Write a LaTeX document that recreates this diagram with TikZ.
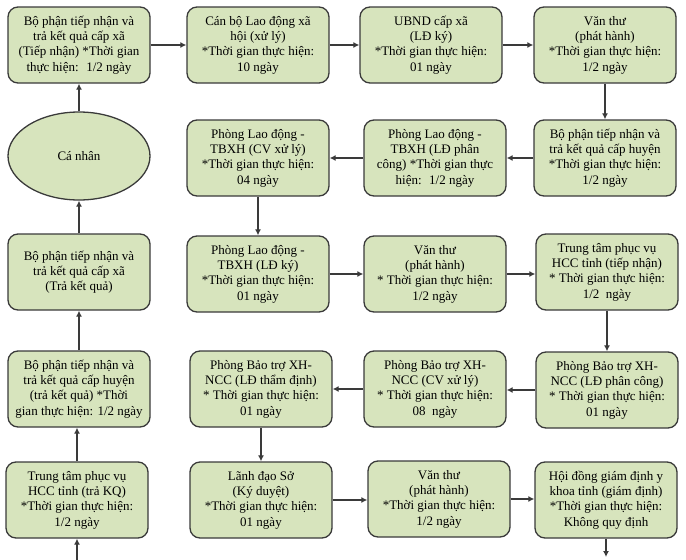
\documentclass[tikz,border=0pt]{standalone}
\usepackage{fontspec}
\setmainfont{Liberation Serif}
\usetikzlibrary{shapes.geometric,arrows.meta}
\definecolor{boxfill}{HTML}{D7E4BD}
\definecolor{boxline}{HTML}{3A3A3A}
\tikzset{
  stepbox/.style={draw=boxline, fill=boxfill, line width=1.3pt, rounded corners=10pt,
    minimum width=142pt, minimum height=76pt, align=center, inner sep=2pt,
    font=\fontsize{13}{15.3}\selectfont},
  ovalbox/.style={draw=boxline, fill=boxfill, line width=1.3pt, ellipse,
    minimum width=142pt, minimum height=88pt, align=center,
    font=\fontsize{13}{15.3}\selectfont},
  flow/.style={draw=boxline, line width=1.2pt, -{Latex[length=6pt,width=6pt]}}
}
\begin{document}
\begin{tikzpicture}[x=1pt,y=1pt]
\useasboundingbox (0,0) rectangle (686,-560);
% row 1
\node[stepbox] (a1) at (79,-45) {Bộ phận tiếp nhận và\\trả kết quả cấp xã\\(Tiếp nhận) *Thời gian\\thực hiện:~ 1/2 ngày};
\node[stepbox] (a2) at (258,-45) {Cán bộ Lao động xã\\hội (xử lý)\\*Thời gian thực hiện:\\10 ngày};
\node[stepbox] (a3) at (431,-45) {UBND cấp xã\\(LĐ ký)\\*Thời gian thực hiện:\\01 ngày};
\node[stepbox] (a4) at (605,-45) {Văn thư\\(phát hành)\\*Thời gian thực hiện:\\1/2 ngày};
% row 2
\node[ovalbox] (b1) at (79,-156) {Cá nhân};
\node[stepbox] (b2) at (258,-158) {Phòng Lao động -\\TBXH (CV xử lý)\\*Thời gian thực hiện:\\04 ngày};
\node[stepbox] (b3) at (435,-158) {Phòng Lao động -\\TBXH (LĐ phân\\công) *Thời gian thực\\hiện:~ 1/2 ngày};
\node[stepbox] (b4) at (605,-158) {Bộ phận tiếp nhận và\\trả kết quả cấp huyện\\*Thời gian thực hiện:\\1/2 ngày};
% row 3
\node[stepbox] (c1) at (79,-272) {Bộ phận tiếp nhận và\\trả kết quả cấp xã\\(Trả kết quả)};
\node[stepbox] (c2) at (258,-274) {Phòng Lao động -\\TBXH (LĐ ký)\\*Thời gian thực hiện:\\01 ngày};
\node[stepbox] (c3) at (435,-274) {Văn thư\\(phát hành)\\* Thời gian thực hiện:\\1/2 ngày};
\node[stepbox] (c4) at (607,-272) {Trung tâm phục vụ\\HCC tỉnh (tiếp nhận)\\* Thời gian thực hiện:\\1/2~ ngày};
% row 4
\node[stepbox] (d1) at (79,-389) {Bộ phận tiếp nhận và\\trả kết quả cấp huyện\\(trả kết quả) *Thời\\gian thực hiện: 1/2 ngày};
\node[stepbox] (d2) at (261,-389) {Phòng Bảo trợ XH-\\NCC (LĐ thẩm định)\\* Thời gian thực hiện:\\01 ngày};
\node[stepbox] (d3) at (435,-389) {Phòng Bảo trợ XH-\\NCC (CV xử lý)\\* Thời gian thực hiện:\\08~ ngày};
\node[stepbox] (d4) at (607,-390) {Phòng Bảo trợ XH-\\NCC (LĐ phân công)\\* Thời gian thực hiện:\\01 ngày};
% row 5
\node[stepbox] (e1) at (77,-500) {Trung tâm phục vụ\\HCC tỉnh (trả KQ)\\*Thời gian thực hiện:\\1/2 ngày};
\node[stepbox] (e2) at (261,-500) {Lãnh đạo Sở\\(Ký duyệt)\\*Thời gian thực hiện:\\01 ngày};
\node[stepbox] (e3) at (439,-499) {Văn thư\\(phát hành)\\*Thời gian thực hiện:\\1/2 ngày};
\node[stepbox] (e4) at (606,-500) {Hội đồng giám định y\\khoa tỉnh (giám định)\\*Thời gian thực hiện:\\Không quy định};
\coordinate (inlet) at (77,-560);
\coordinate (outlet) at (606,-557);
% connectors
\draw[flow] (a1.east) -- (a1.east -| a2.west);
\draw[flow] (a2.east) -- (a2.east -| a3.west);
\draw[flow] (a3.east) -- (a3.east -| a4.west);
\draw[flow] (a4.south) -- (a4.south |- b4.north);
\draw[flow] (b4.west) -- (b4.west -| b3.east);
\draw[flow] (b3.west) -- (b3.west -| b2.east);
\draw[flow] (b2.south) -- (b2.south |- c2.north);
\draw[flow] (c2.east) -- (c2.east -| c3.west);
\draw[flow] (c3.east) -- (c3.east -| c4.west);
\draw[flow] (c4.south) -- (c4.south |- d4.north);
\draw[flow] (d4.west) -- (d4.west -| d3.east);
\draw[flow] (d3.west) -- (d3.west -| d2.east);
\draw[flow] (d2.south) -- (d2.south |- e2.north);
\draw[flow] (e2.east) -- (e2.east -| e3.west);
\draw[flow] (e3.east) -- (e3.east -| e4.west);
\draw[flow] (e4.south) -- (outlet);
\draw[flow] (inlet) -- (inlet |- e1.south);
\draw[flow] (e1.north) -- (e1.north |- d1.south);
\draw[flow] (d1.north) -- (d1.north |- c1.south);
\draw[flow] (c1.north) -- (c1.north |- b1.south);
\draw[flow] (b1.north) -- (b1.north |- a1.south);
\end{tikzpicture}
\end{document}
